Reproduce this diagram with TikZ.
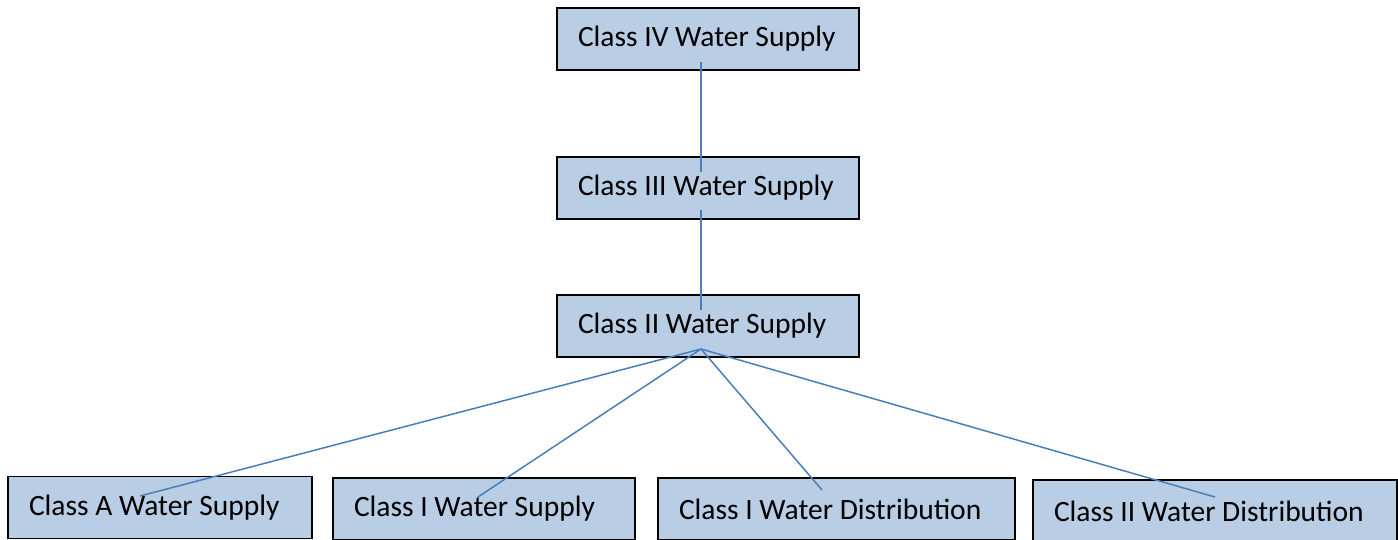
\documentclass[tikz,border=0pt]{standalone}
\usepackage{fontspec}
\setmainfont{Carlito}
\begin{document}
\begin{tikzpicture}[x=1pt,y=-1pt,
  box/.style={draw=black,line width=1.5pt,fill=boxblue,inner xsep=21pt,inner ysep=0pt,
    align=flush left,font=\fontsize{29.5}{34}\selectfont,minimum height=62pt},
  conn/.style={draw=lineblue,line width=1.5pt}]
\definecolor{boxblue}{HTML}{B9CDE5}
\definecolor{lineblue}{HTML}{4A7EBB}
\useasboundingbox (0,0) rectangle (1398,539);
\node[box,text width=260pt] (c4) at (708,39) {\mbox{Class IV Water Supply}};
\node[box,text width=260pt] (c3) at (708,188) {\mbox{Class III Water Supply}};
\node[box,text width=260pt] (c2) at (708,326) {\mbox{Class II Water Supply}};
\node[box,text width=262pt] (ca) at (160,507.5) {\mbox{Class A Water Supply}};
\node[box,text width=260pt] (c1) at (484,509) {\mbox{Class I Water Supply}};
\node[box,text width=315pt] (c1d) at (836.5,509) {\mbox{Class I Water Distribution}};
\node[box,text width=322pt] (c2d) at (1215,511) {\mbox{Class II Water Distribution}};
\coordinate (p4) at (701,62);
\coordinate (p3a) at (701,172);
\coordinate (p3b) at (701,210);
\coordinate (p2a) at (701,310);
\coordinate (p2b) at (701,349);
\coordinate (qa) at (140,496);
\coordinate (q1) at (478,497);
\coordinate (q1d) at (822,490);
\coordinate (q2d) at (1215,497);
\draw[conn] (p4) -- (p3a);
\draw[conn] (p3b) -- (p2a);
\draw[conn] (p2b) -- (qa);
\draw[conn] (p2b) -- (q1);
\draw[conn] (p2b) -- (q1d);
\draw[conn] (p2b) -- (q2d);
\end{tikzpicture}
\end{document}
